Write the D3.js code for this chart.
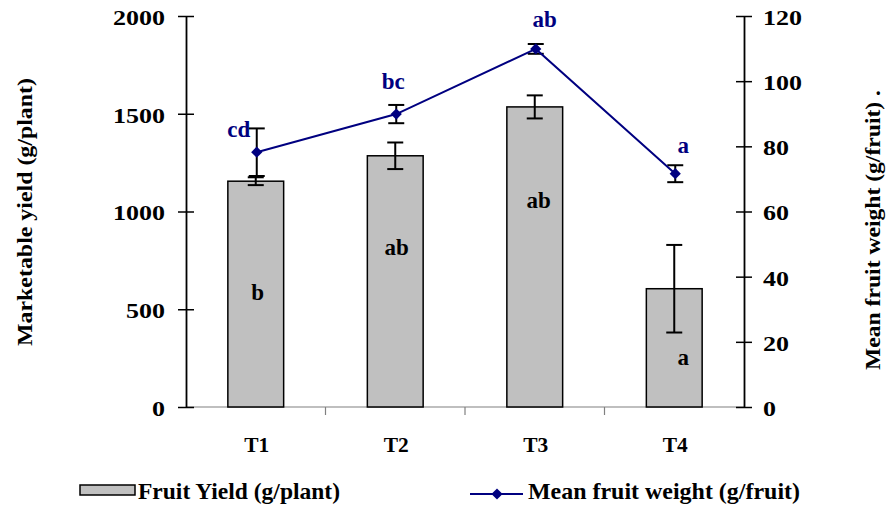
<!DOCTYPE html>
<html>
<head>
<meta charset="utf-8">
<script src="https://cdn.jsdelivr.net/npm/d3@7"></script>
<style>
  body { margin: 0; background: #fff; }
  text { font-family: "Liberation Serif", "Times New Roman", serif; font-weight: 700; }
</style>
</head>
<body>
<div id="chart"></div>
<script>
const treatments = ["T1", "T2", "T3", "T4"];
const yieldMean = [1155, 1285, 1535, 605];       // g/plant
const yieldErr = [20, 68, 59, 224];
const yieldLetters = ["b", "ab", "ab", "a"];
const yieldLetterAt = [547, 777, 1018, 215];     // where each letter sits, g/plant

const weightMean = [78.2, 89.9, 109.9, 71.6];    // g/fruit
const weightErr = [7.3, 2.8, 1.5, 2.6];
const weightLetters = ["cd", "bc", "ab", "a"];

const leftTicks = [0, 500, 1000, 1500, 2000];
const rightTicks = [0, 20, 40, 60, 80, 100, 120];

const width = 886, height = 506;
const plotLeft = 186, plotRight = 744, plotTop = 16, plotBottom = 407;

const svg = d3.select("#chart").append("svg")
  .attr("width", width)
  .attr("height", height);

const x = d3.scaleBand().domain(treatments).range([plotLeft, plotRight]).padding(0);
const bw = x.bandwidth();
const yL = d3.scaleLinear().domain([0, 2000]).range([plotBottom, plotTop]);
const yR = d3.scaleLinear().domain([0, 120]).range([plotBottom, plotTop]);

// x axis line (grey) with separators between categories
svg.append("line")
  .attr("x1", plotLeft).attr("x2", plotRight)
  .attr("y1", plotBottom).attr("y2", plotBottom)
  .attr("stroke", "#808080").attr("stroke-width", 1.2);
treatments.slice(1).forEach(t => {
  svg.append("line")
    .attr("x1", x(t)).attr("x2", x(t))
    .attr("y1", plotBottom).attr("y2", plotBottom + 8)
    .attr("stroke", "#808080").attr("stroke-width", 1.2);
});

// bars
const bars = treatments.map((t, i) => ({ t, v: yieldMean[i], e: yieldErr[i], l: yieldLetters[i], at: yieldLetterAt[i] }));
svg.append("g").selectAll("rect").data(bars).join("rect")
  .attr("x", d => x(d.t) + bw * 0.3)
  .attr("width", bw * 0.4)
  .attr("y", d => yL(d.v))
  .attr("height", d => plotBottom - yL(d.v))
  .attr("fill", "#c0c0c0")
  .attr("stroke", "#000")
  .attr("stroke-width", 1.5);

// bar error bars
const eb = svg.append("g").attr("stroke", "#000").attr("stroke-width", 2);
bars.forEach(d => {
  const cx = x(d.t) + bw / 2;
  eb.append("line").attr("x1", cx).attr("x2", cx).attr("y1", yL(d.v + d.e)).attr("y2", yL(d.v - d.e));
  [d.v + d.e, d.v - d.e].forEach(v => {
    eb.append("line").attr("x1", cx - 8).attr("x2", cx + 8).attr("y1", yL(v)).attr("y2", yL(v));
  });
});

// bar letters
const barNudge = [2, 1.5, 4, 9];
svg.append("g").selectAll("text").data(bars).join("text")
  .attr("x", (d, i) => x(d.t) + bw / 2 + barNudge[i])
  .attr("y", d => yL(d.at))
  .attr("text-anchor", "middle")
  .attr("font-size", 23)
  .attr("fill", "#000")
  .text(d => d.l);

// axis tick labels are drawn wide in the original
function styleTicks(g) {
  g.select(".domain").attr("stroke", "#000").attr("stroke-width", 1.8);
  g.selectAll(".tick line").attr("stroke", "#000").attr("stroke-width", 1.5).attr("x1", -8).attr("x2", 8);
  g.selectAll(".tick text")
    .attr("font-size", 20)
    .attr("font-family", "Liberation Serif")
    .attr("font-weight", 700)
    .attr("dy", "0.42em")
    .attr("fill", "#000")
    .attr("lengthAdjust", "spacingAndGlyphs")
    .attr("textLength", d => String(d).length * 13);
}

const gL = svg.append("g").attr("transform", `translate(${plotLeft},0)`)
  .call(d3.axisLeft(yL).tickValues(leftTicks).tickFormat(d3.format("d"))
    .tickSizeInner(8).tickSizeOuter(0).tickPadding(13))
  .call(styleTicks);

const gR = svg.append("g").attr("transform", `translate(${plotRight},0)`)
  .call(d3.axisRight(yR).tickValues(rightTicks).tickFormat(d3.format("d"))
    .tickSizeInner(8).tickSizeOuter(0).tickPadding(11))
  .call(styleTicks);

// category labels
svg.append("g").selectAll("text").data(treatments).join("text")
  .attr("x", d => x(d) + bw / 2 + 1)
  .attr("y", plotBottom + 45)
  .attr("text-anchor", "middle")
  .attr("font-size", 22)
  .attr("lengthAdjust", "spacingAndGlyphs")
  .attr("textLength", 25)
  .attr("fill", "#000")
  .text(d => d);

// mean fruit weight line
const navy = "#000080";
const pts = treatments.map((t, i) => ({ t, v: weightMean[i], e: weightErr[i], l: weightLetters[i] }));
const px = d => x(d.t) + bw / 2 + 1;

const le = svg.append("g").attr("stroke", "#000").attr("stroke-width", 2);
pts.forEach(d => {
  const cx = px(d);
  le.append("line").attr("x1", cx).attr("x2", cx).attr("y1", yR(d.v + d.e)).attr("y2", yR(d.v - d.e));
  [d.v + d.e, d.v - d.e].forEach(v => {
    le.append("line").attr("x1", cx - 8).attr("x2", cx + 8).attr("y1", yR(v)).attr("y2", yR(v));
  });
});

svg.append("path")
  .datum(pts)
  .attr("fill", "none")
  .attr("stroke", navy)
  .attr("stroke-width", 2)
  .attr("d", d3.line().x(px).y(d => yR(d.v)));

const diamond = d3.symbol().type(d3.symbolDiamond2).size(80);
svg.append("g").selectAll("path").data(pts).join("path")
  .attr("transform", d => `translate(${px(d)},${yR(d.v)})`)
  .attr("d", diamond)
  .attr("fill", navy);

// letters over the line points
const lineNudge = [[-18, -15], [-3, -25], [9, -22], [8, -21]];
svg.append("g").selectAll("text").data(pts).join("text")
  .attr("x", (d, i) => px(d) + lineNudge[i][0])
  .attr("y", (d, i) => yR(d.v) + lineNudge[i][1])
  .attr("text-anchor", "middle")
  .attr("font-size", 23)
  .attr("fill", navy)
  .text(d => d.l);

// axis titles
svg.append("text")
  .attr("transform", `translate(32,212) rotate(-90)`)
  .attr("text-anchor", "middle")
  .attr("font-size", 22)
  .attr("lengthAdjust", "spacingAndGlyphs")
  .attr("textLength", 268)
  .attr("fill", "#000")
  .text("Marketable yield (g/plant)");

svg.append("text")
  .attr("transform", `translate(880,230) rotate(-90)`)
  .attr("text-anchor", "middle")
  .attr("font-size", 22)
  .attr("lengthAdjust", "spacingAndGlyphs")
  .attr("textLength", 280)
  .attr("fill", "#000")
  .text("Mean fruit weight (g/fruit) .");

// legend
svg.append("rect")
  .attr("x", 80).attr("y", 485).attr("width", 55).attr("height", 10)
  .attr("fill", "#c0c0c0").attr("stroke", "#000").attr("stroke-width", 1.5);
svg.append("text")
  .attr("x", 138).attr("y", 499)
  .attr("font-size", 23)
  .attr("lengthAdjust", "spacingAndGlyphs")
  .attr("textLength", 202)
  .attr("fill", "#000")
  .text("Fruit Yield (g/plant)");

svg.append("line")
  .attr("x1", 470).attr("x2", 523).attr("y1", 494).attr("y2", 494)
  .attr("stroke", navy).attr("stroke-width", 2);
svg.append("path")
  .attr("transform", "translate(497,494)")
  .attr("d", diamond)
  .attr("fill", navy);
svg.append("text")
  .attr("x", 528).attr("y", 499)
  .attr("font-size", 23)
  .attr("lengthAdjust", "spacingAndGlyphs")
  .attr("textLength", 272)
  .attr("fill", "#000")
  .text("Mean fruit weight (g/fruit)");
</script>
</body>
</html>
